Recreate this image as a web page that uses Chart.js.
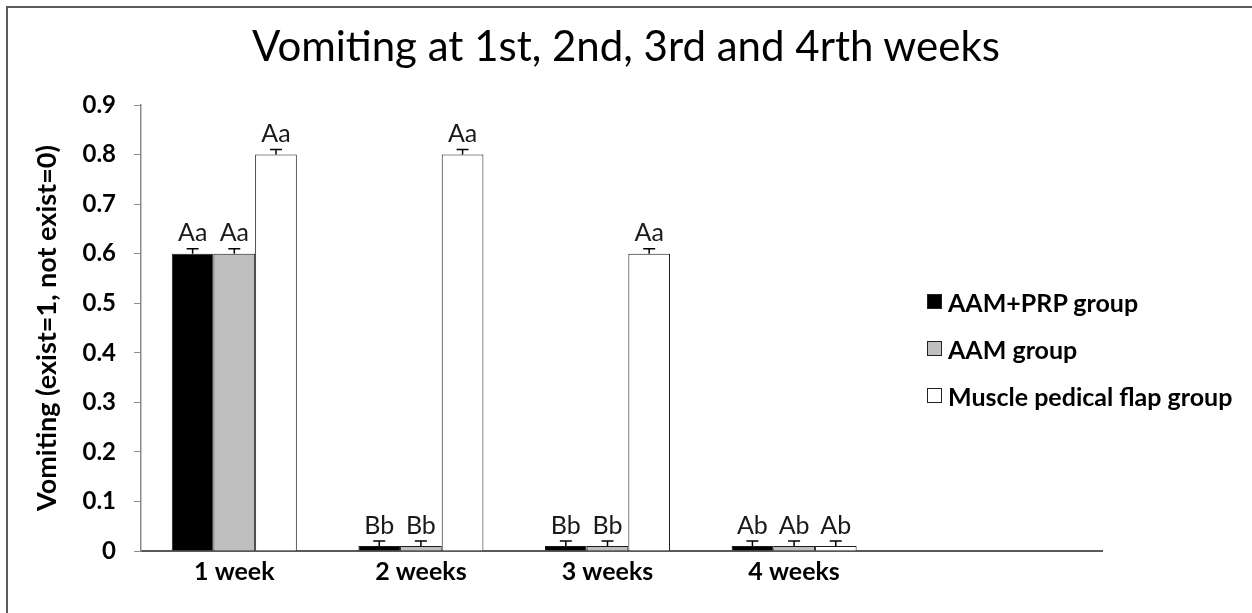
<!DOCTYPE html>
<html>
<head>
<meta charset="utf-8">
<script src="https://cdn.jsdelivr.net/npm/chart.js@4.4.1/dist/chart.umd.min.js"></script>
<style>
  html, body { margin: 0; padding: 0; background: #fff; overflow: hidden; }
  #wrap { position: relative; width: 1252px; height: 613px; }
  #frame { position: absolute; left: 6px; top: 6px; width: 1400px; height: 800px;
           border-left: 2px solid #5a5a5a; border-top: 2px solid #5a5a5a; }
  #title { position: absolute; left: 0; width: 1252px; top: 24px; text-align: center;
           font-family: Lato, sans-serif; font-size: 42px; line-height: 42px; color: #000;
           padding-left: 0; box-sizing: border-box; }
  #legend { position: absolute; left: 927px; top: 278px; font-family: Lato, sans-serif;
            font-weight: bold; font-size: 25px; color: #000; }
  .item { height: 47px; display: flex; align-items: center; }
  .box { width: 15px; height: 15px; border: 1px solid #222; margin-right: 6px; box-sizing: border-box; }
  canvas { position: absolute; left: 0; top: 0; }
</style>
</head>
<body>
<div id="wrap">
  <div id="frame"></div>
  <canvas id="chart" width="1252" height="613"></canvas>
  <div id="title"></div>
  <div id="legend"></div>
</div>
<script>
// kategoriler ve seriler
let chartTitle = "Vomiting at 1st, 2nd, 3rd and 4rth weeks";
let weeks = ["1 week", "2 weeks", "3 weeks", "4 weeks"];
let groupNames = ["AAM+PRP group", "AAM group", "Muscle pedical flap group"];
let aamPrp = [0.6, 0.01, 0.01, 0.01];
let aam = [0.6, 0.01, 0.01, 0.01];
let muscle = [0.8, 0.8, 0.6, 0.01];
let errAamPrp = [0.01, 0.01, 0.01, 0.01];
let errAam = [0.01, 0.01, 0.01, 0.01];
let errMuscle = [0.01, 0.01, 0.01, 0.01];
let lettersAamPrp = ["Aa", "Bb", "Bb", "Ab"];
let lettersAam = ["Aa", "Bb", "Bb", "Ab"];
let lettersMuscle = ["Aa", "Aa", "Aa", "Ab"];
let yTicks = [0, 0.1, 0.2, 0.3, 0.4, 0.5, 0.6, 0.7, 0.8, 0.9];

let fills = ["#000000", "#bfbfbf", "#ffffff"];
let allValues = [aamPrp, aam, muscle];
let allErrors = [errAamPrp, errAam, errMuscle];
let allLetters = [lettersAamPrp, lettersAam, lettersMuscle];

function toPoints(arr) {
  return arr.map((v, i) => ({ x: i + 1, y: v }));
}

// hata çubukları ve harfler
const errorBars = {
  id: "errorBars",
  afterDatasetsDraw(chart) {
    const ctx = chart.ctx;
    const yScale = chart.scales.y;
    chart.data.datasets.forEach((ds, di) => {
      const meta = chart.getDatasetMeta(di);
      meta.data.forEach((bar, i) => {
        const val = allValues[di][i];
        const top = yScale.getPixelForValue(val + allErrors[di][i]);
        ctx.save();
        ctx.strokeStyle = "#000";
        ctx.lineWidth = 1.5;
        ctx.beginPath();
        ctx.moveTo(bar.x, bar.y);
        ctx.lineTo(bar.x, top);
        ctx.moveTo(bar.x - 6, top);
        ctx.lineTo(bar.x + 6, top);
        ctx.stroke();
        ctx.fillStyle = "#1a1a1a";
        ctx.font = "25px Lato";
        ctx.textAlign = "center";
        ctx.textBaseline = "bottom";
        ctx.fillText(allLetters[di][i], bar.x, top - 3);
        ctx.restore();
      });
    });
  }
};

let datasets = allValues.map((vals, i) => ({
  label: groupNames[i],
  data: toPoints(vals),
  backgroundColor: fills[i],
  borderColor: "#1a1a1a",
  borderWidth: 1,
  categoryPercentage: 0.67,
  barPercentage: 1.0
}));

new Chart(document.getElementById("chart"), {
  type: "bar",
  data: { datasets: datasets },
  options: {
    responsive: false,
    animation: false,
    layout: { padding: { left: 25, right: 150, top: 105, bottom: 0 } },
    plugins: {
      legend: { display: false },
      tooltip: { enabled: false },
      title: { display: false }
    },
    scales: {
      x: {
        type: "linear",
        offset: false,
        min: 0.5,
        max: 5.65,
        afterBuildTicks: (scale) => {
          scale.ticks = weeks.map((w, i) => ({ value: i + 1 }));
        },
        afterFit: (scale) => { scale.height = 62; },
        grid: { display: false, offset: false },
        border: { color: "#595959", width: 2 },
        ticks: {
          padding: -2,
          color: "#000",
          font: { family: "Lato", size: 25, weight: "bold" },
          callback: (v) => weeks[v - 1]
        }
      },
      y: {
        min: 0,
        max: 0.9,
        afterBuildTicks: (scale) => {
          scale.ticks = yTicks.map((v) => ({ value: v }));
        },
        afterFit: (scale) => { scale.width = 116; },
        grid: { drawOnChartArea: false, tickLength: 7, color: "#8c8c8c" },
        border: { color: "#8c8c8c", width: 1.5 },
        title: {
          display: true,
          text: "Vomiting (exist=1, not exist=0)",
          color: "#000",
          font: { family: "Lato", size: 27, weight: "bold" },
          padding: { top: 6, bottom: 0 }
        },
        ticks: {
          padding: 18,
          color: "#000",
          font: { family: "Lato", size: 24, weight: "bold" },
          callback: (v) => (v === 0 ? "0" : v.toFixed(1))
        }
      }
    }
  },
  plugins: [errorBars]
});

document.getElementById("title").textContent = chartTitle;

// legend kutuları
let legend = document.getElementById("legend");
groupNames.forEach((name, i) => {
  let item = document.createElement("div");
  item.className = "item";
  item.innerHTML = `<span class="box" style="background:${fills[i]}"></span><span>${name}</span>`;
  legend.appendChild(item);
});
</script>
</body>
</html>
